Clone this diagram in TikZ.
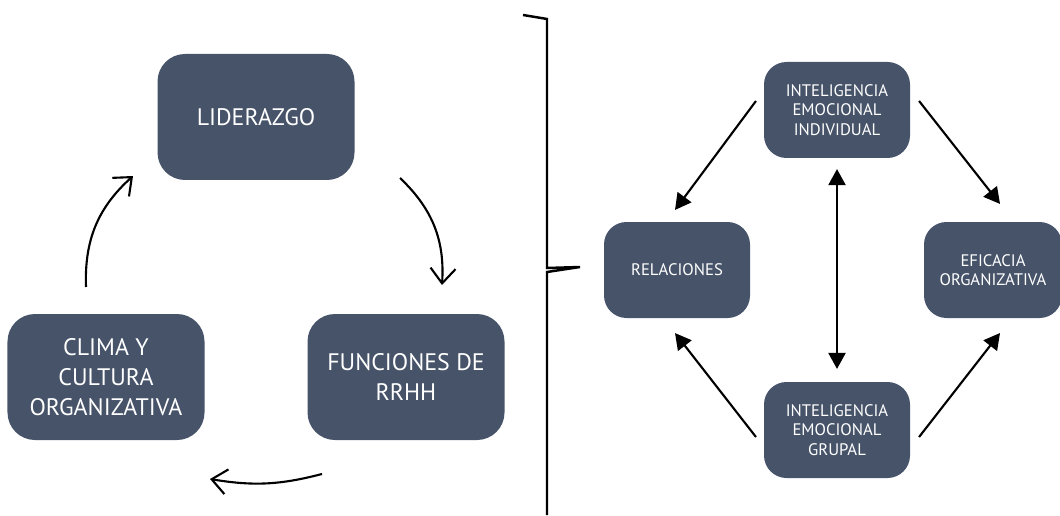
\documentclass[tikz,border=0pt]{standalone}
\usepackage{fontspec}
\setmainfont{PT Sans}
\usepackage{tikz}
\usetikzlibrary{arrows.meta,positioning,calc}
\definecolor{caja}{HTML}{465369}

\begin{document}
\begin{tikzpicture}[line width=1.2pt,
				caja grande/.style={draw=none, fill=caja, text=white, rounded corners=0.55cm,
					minimum width=3.94cm, minimum height=2.52cm, align=center,
					font=\fontsize{13.6}{17}\selectfont},
				caja chica/.style={draw=none, fill=caja, text=white, rounded corners=0.45cm,
					minimum width=2.92cm, minimum height=1.92cm, align=center,
					font=\fontsize{9.5}{11}\selectfont},
				ciclo/.style={-{Straight Barb[length=3mm,width=5mm]}, bend left=25},
				flecha/.style={-{Triangle[length=3.2mm,width=3.4mm]}}]
			\useasboundingbox (0,0) rectangle (21.2,10.3);
			% ciclo de la izquierda
			\node[caja grande] (lid) at (5.12,7.96) {LIDERAZGO};
			\node[caja grande] (fun) at (8.12,2.76) {FUNCIONES DE\\RRHH};
			\node[caja grande] (cli) at (2.12,2.76) {CLIMA Y\\CULTURA\\ORGANIZATIVA};
			\coordinate (a1) at (8.0,6.74);
			\coordinate (b1) at (8.84,4.6);
			\coordinate (a2) at (6.44,0.82);
			\coordinate (b2) at (4.2,0.72);
			\coordinate (a3) at (1.72,4.56);
			\coordinate (b3) at (2.66,6.78);
			\draw[ciclo] (a1) to (b1);
			\draw[ciclo, bend left=12] (a2) to (b2);
			\draw[ciclo] (a3) to (b3);
			% llave
			\draw[line width=1.4pt] (10.46,10.0) -- (10.94,9.92) -- (10.94,4.94) -- (11.6,4.96)
				-- (10.94,4.86) -- (10.94,0);
			% esquema de la derecha
			\node[caja chica] (iei) at (16.74,8.1) {INTELIGENCIA\\EMOCIONAL\\INDIVIDUAL};
			\node[caja chica] (rel) at (13.54,4.9) {RELACIONES};
			\node[caja chica, minimum width=2.76cm] (efi) at (19.86,4.9) {EFICACIA\\ORGANIZATIVA};
			\node[caja chica] (ieg) at (16.74,1.7) {INTELIGENCIA\\EMOCIONAL\\GRUPAL};
			\draw[flecha] ([shift={(-0.14,0.18)}]iei.west) -- ([shift={(-0.04,0.22)}]rel.north);
			\draw[flecha] ([shift={(0.16,0.18)}]iei.east) -- ([shift={(0.14,0.34)}]efi.north);
			\draw[flecha] ([shift={(-0.14,-0.14)}]ieg.west) -- ([shift={(-0.04,-0.28)}]rel.south);
			\draw[flecha] ([shift={(0.16,-0.14)}]ieg.east) -- ([shift={(0.14,-0.28)}]efi.south);
			\draw[flecha, {Triangle[length=3.2mm,width=3.4mm]}-{Triangle[length=3.2mm,width=3.4mm]}]
				([yshift=-0.2cm]iei.south) -- ([yshift=0.24cm]ieg.north);
		\end{tikzpicture}
\end{document}
